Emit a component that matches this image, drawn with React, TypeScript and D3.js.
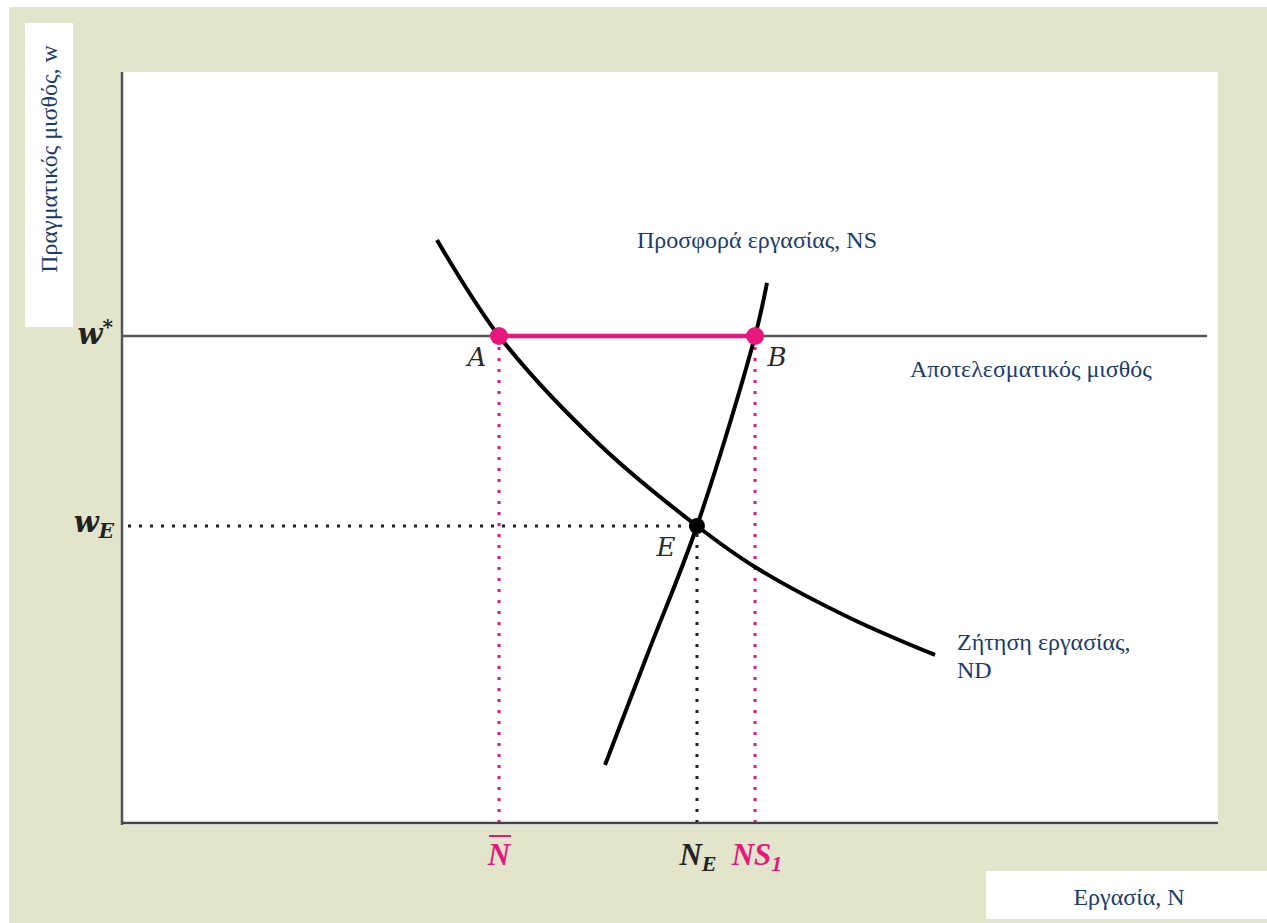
import React from "react";
import * as d3 from "d3";

// Data (model units: x = labour N, y = real wage w)
const demandN = [28.74, 34.4, 43.61, 52.46, 57.76, 66.42, 74.18];
const demandW = [77.69, 64.94, 50.46, 39.71, 34.26, 27.49, 22.58];
const supplyN = [44.07, 47.99, 52.46, 57.76, 58.85];
const supplyW = [7.97, 22.84, 39.71, 64.94, 72.0];
const wStar = 64.94;
const wE = 39.71;
const nBar = 34.4;
const nE = 52.46;
const ns1 = 57.76;

const W = 1267;
const H = 923;
const plot = { left: 122, right: 1218, top: 72, bottom: 825 };

const x = d3.scaleLinear().domain([0, 100]).range([plot.left, plot.right]);
const y = d3.scaleLinear().domain([0, 100]).range([plot.bottom, plot.top]);

const PINK = "#e8177e";
const NAVY = "#1b3d6d";
const BEIGE = "#e2e5cc";
const SERIF = "'Liberation Serif', 'Times New Roman', serif";
const MATH = "'DejaVu Serif', 'Liberation Serif', serif";

export default function App() {
  const line = d3
    .line<[number, number]>()
    .x((d) => x(d[0]))
    .y((d) => y(d[1]))
    .curve(d3.curveCatmullRom.alpha(0.5));
  const demand = line(demandN.map((n, i) => [n, demandW[i]] as [number, number])) || "";
  const supply = line(supplyN.map((n, i) => [n, supplyW[i]] as [number, number])) || "";

  const dot = { strokeDasharray: "3 8", strokeWidth: 3 };
  const tickFont = { fontFamily: MATH, fontStyle: "italic", fontWeight: 700 } as const;
  const nFont = { fontFamily: SERIF, fontStyle: "italic", fontWeight: 700 } as const;
  const ptFont = { fontFamily: MATH, fontStyle: "italic", fontWeight: 400 } as const;

  return (
    <div style={{ position: "absolute", left: 0, top: 0 }}>
      <svg width={W} height={H} style={{ display: "block" }}>
        <rect x={0} y={0} width={W} height={H} fill="#ffffff" />
        <rect x={9} y={7} width={W - 9} height={H - 7} fill={BEIGE} />
        {/* plot area */}
        <rect x={plot.left} y={plot.top} width={plot.right - plot.left} height={plot.bottom - plot.top} fill="#ffffff" />
        {/* y label box */}
        <rect x={25} y={23} width={48} height={304} fill="#ffffff" />
        <text
          transform={`translate(57, 159) rotate(-90)`}
          textAnchor="middle"
          fontFamily={SERIF}
          fontSize={24}
          fill={NAVY}
        >
          Πραγματικός μισθός, w
        </text>
        {/* x label box */}
        <rect x={986} y={871} width={W - 986} height={48} fill="#ffffff" />
        <text x={1129} y={905} textAnchor="middle" fontFamily={SERIF} fontSize={24} fill={NAVY}>
          Εργασία, N
        </text>

        {/* axes */}
        <line x1={x(0)} x2={x(0)} y1={plot.top} y2={plot.bottom} stroke="#555" strokeWidth={2.5} />
        <line x1={x(0)} x2={plot.right} y1={plot.bottom - 2} y2={plot.bottom - 2} stroke="#444" strokeWidth={2.5} />
        {/* effective wage line */}
        <line x1={x(0)} x2={plot.right - 11} y1={y(wStar)} y2={y(wStar)} stroke="#555" strokeWidth={2.5} />

        {/* dotted guides */}
        <line x1={x(0) + 6} x2={x(nE)} y1={y(wE)} y2={y(wE)} stroke="#222" {...dot} />
        <line x1={x(nE)} x2={x(nE)} y1={y(wE) + 8} y2={plot.bottom - 3} stroke="#222" {...dot} />
        <line x1={x(nBar)} x2={x(nBar)} y1={y(wStar) + 11} y2={plot.bottom - 3} stroke={PINK} {...dot} />
        <line x1={x(ns1)} x2={x(ns1)} y1={y(wStar) + 11} y2={plot.bottom - 3} stroke={PINK} {...dot} />

        {/* curves */}
        <path d={demand} fill="none" stroke="#000" strokeWidth={4} />
        <path d={supply} fill="none" stroke="#000" strokeWidth={4} />

        {/* unemployment segment */}
        <line x1={x(nBar)} x2={x(ns1)} y1={y(wStar)} y2={y(wStar)} stroke={PINK} strokeWidth={4.5} />
        <circle cx={x(nBar)} cy={y(wStar)} r={9} fill={PINK} />
        <circle cx={x(ns1)} cy={y(wStar)} r={9} fill={PINK} />
        <circle cx={x(nE)} cy={y(wE)} r={8} fill="#000" />

        {/* point labels */}
        <text x={477} y={366} textAnchor="middle" {...ptFont} fontSize={26} fill="#2a2a2a">A</text>
        <text x={777} y={366} textAnchor="middle" {...ptFont} fontSize={26} fill="#2a2a2a">B</text>
        <text x={666} y={556} textAnchor="middle" {...ptFont} fontSize={26} fill="#2a2a2a">E</text>

        {/* y tick labels */}
        <text x={113} y={y(wStar) + 8} textAnchor="end" {...tickFont} fontSize={29} fill="#222">
          w<tspan dy={-10} fontSize={20}>*</tspan>
        </text>
        <text x={114} y={y(wE) + 6} textAnchor="end" {...tickFont} fontSize={29} fill="#222">
          w<tspan dy={6} fontSize={20}>E</tspan>
        </text>

        {/* x tick labels */}
        <text x={x(nBar)} y={865} textAnchor="middle" {...nFont} fontSize={31} fill={PINK}>N</text>
        <line x1={x(nBar) - 10} x2={x(nBar) + 12} y1={836} y2={836} stroke={PINK} strokeWidth={2} />
        <text x={x(nE) + 1} y={865} textAnchor="middle" {...nFont} fontSize={31} fill="#222">
          N<tspan dy={6} fontSize={22}>E</tspan>
        </text>
        <text x={x(ns1) + 2} y={865} textAnchor="middle" {...nFont} fontSize={31} fill={PINK}>
          NS<tspan dy={6} fontSize={22}>1</tspan>
        </text>

        {/* annotations */}
        <text x={637} y={248} fontFamily={SERIF} fontSize={24} fill={NAVY}>Προσφορά εργασίας, NS</text>
        <text x={910} y={377} fontFamily={SERIF} fontSize={24} fill={NAVY}>Αποτελεσματικός μισθός</text>
        <text x={957} y={650} fontFamily={SERIF} fontSize={24} fill={NAVY}>Ζήτηση εργασίας,</text>
        <text x={957} y={678} fontFamily={SERIF} fontSize={24} fill={NAVY}>ND</text>
      </svg>
    </div>
  );
}
